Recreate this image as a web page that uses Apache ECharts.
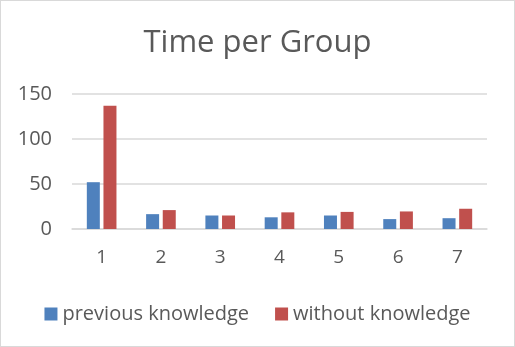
<!DOCTYPE html>
<html>
<head>
<meta charset="utf-8">
<script src="https://cdn.jsdelivr.net/npm/echarts@6/dist/echarts.min.js"></script>
<style>
html, body { margin: 0; padding: 0; background: #fff; }
#chart { width: 513px; height: 345px; border: 1px solid #d9d9d9; }
</style>
</head>
<body>
<div id="chart"></div>
<script>
var groups = ['1', '2', '3', '4', '5', '6', '7'];
var previousKnowledge = [52, 16.5, 15, 13, 15, 11, 12];
var withoutKnowledge = [137, 21, 15, 18.5, 19, 19.5, 22.5];
var yTicks = [0, 50, 100, 150];

var chart = echarts.init(document.getElementById('chart'));
var option = {
    textStyle: { fontFamily: 'Open Sans' },
    title: {
        text: 'Time per Group',
        left: 'center',
        top: 22,
        textStyle: { color: '#595959', fontSize: 31, fontWeight: 'normal', fontFamily: 'Open Sans' }
    },
    legend: {
        top: 298,
        itemWidth: 13,
        itemHeight: 13,
        itemGap: 26,
        icon: 'rect',
        textStyle: { color: '#595959', fontSize: 20, fontFamily: 'Open Sans' },
        data: ['previous knowledge', 'without knowledge']
    },
    grid: { left: 71, right: 27, top: 93, bottom: 117 },
    xAxis: {
        type: 'category',
        data: groups,
        axisLine: { lineStyle: { color: '#d9d9d9', width: 1.5 } },
        axisTick: { show: false },
        axisLabel: { color: '#595959', fontSize: 19, margin: 19 }
    },
    yAxis: {
        type: 'value',
        min: yTicks[0],
        max: yTicks[yTicks.length - 1],
        interval: 50,
        axisLine: { show: false },
        axisTick: { show: false },
        splitLine: { lineStyle: { color: '#d9d9d9', width: 1.5 } },
        axisLabel: { color: '#595959', fontSize: 20, margin: 20 }
    },
    series: [{
        name: 'previous knowledge',
        type: 'bar',
        data: previousKnowledge,
        barWidth: 13,
        barGap: '28%',
        itemStyle: { color: '#4f81bd' }
    }, {
        name: 'without knowledge',
        type: 'bar',
        data: withoutKnowledge,
        barWidth: 13,
        itemStyle: { color: '#c0504d' }
    }]
};
chart.setOption(option);
</script>
</body>
</html>
